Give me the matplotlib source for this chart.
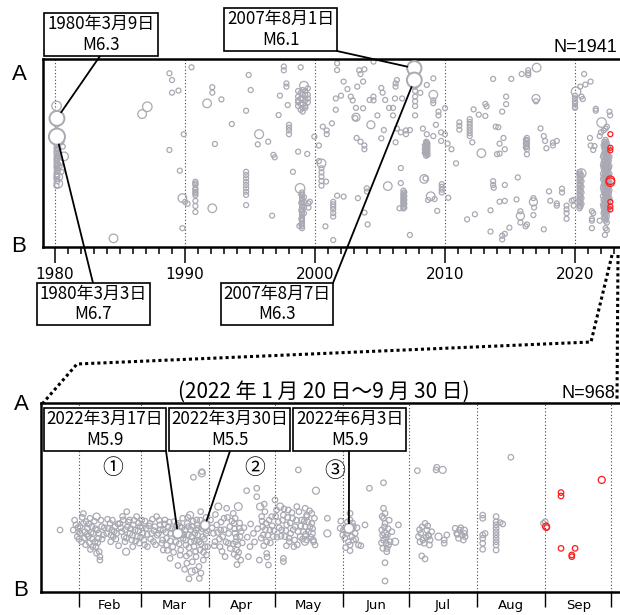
import matplotlib
matplotlib.use('Agg')
import matplotlib.pyplot as plt
from matplotlib.lines import Line2D
from matplotlib.patches import Rectangle

plt.rcParams['font.family'] = ['Noto Sans CJK JP', 'DejaVu Sans']

GRAY = '#a9a9b3'
RED = '#ff1a1a'
W, H = 620, 615

# ---------------- top panel (year, position along A-B in %, 0 = A) ----------------
top_scatter = [
    (1980.6, 46.6), (1980.5, 44), (1980.45, 55), (1980.5, 60), (1980.35, 57),
    (1988.8, 7.6), (1989.0, 11.2), (1989.0, 17.9), (1989.5, 16.8),
    (1988.8, 48.4), (1989.6, 59.4), (1989.9, 40.0), (1990.0, 76.0), (1990.2, 77.0),
    (1989.8, 90.0), (1990.5, 4.4), (1992.1, 15.0), (1992.1, 17.9), (1992.8, 21.5),
    (1993.6, 34.6), (1992.3, 45.2),
    (1994.9, 8.5), (1995.05, 16.5), (1994.7, 27.5), (1995.6, 45.4), (1996.4, 44.0),
    (1996.9, 52.3), (1997.2, 29.8), (1997.3, 19.5), (1997.9, 24.5), (1996.7, 83.3),
    (1998.9, 4.4), (1998.7, 49.3), (1999.4, 50.5), (1998.3, 60.0),
    (1998.8, 88.8), (1999.5, 76.8), (1999.5, 79.0), (1994.7, 77.7),
    (1999.95, 41.3), (2000.3, 46.0), (2000.3, 54.3), (2000.85, 65.2), (2000.6, 36.0),
    (2001.3, 34.2), (2001.6, 21.0), (2002.2, 12.0), (2002.0, 19.5), (2001.6, 27.0),
    (2001.7, 72.7), (2002.2, 73.2), (2000.8, 89.0), (2001.4, 96.3),
    (2003.4, 6.0), (2003.5, 8.0), (2003.8, 5.5), (2003.7, 12.0), (2003.25, 14.7),
    (2002.75, 20.0), (2002.9, 22.0), (2003.15, 26.0), (2003.7, 26.2), (2003.2, 42.0),
    (2003.5, 44.0), (2003.98, 68.8), (2004.0, 70.5), (2003.3, 74.0), (2003.8, 81.7),
    (2004.05, 88.0), (2004.5, 1.4), (2005.2, 17.9), (2005.4, 21.8), (2005.7, 26.0),
    (2006.15, 21.0), (2006.7, 21.0), (2006.6, 58.0), (2006.6, 66.0), (2006.5, 79.4),
    (2007.3, 93.6), (2006.3, 37.0), (2006.6, 39.0), (2007.3, 37.8), (2005.3, 37.8),
    (2006.2, 44.3), (2007.64, 0.5), (2008.1, 18.0), (2008.5, 63.5), (2008.7, 75.0),
    (2004.2, 21.8), (2005.1, 15.4), (2006.3, 11.2), (2003.1, 31.4),
    (2009.1, 10.3), (2008.6, 13.8), (2010.0, 26.2), (2009.3, 35.0), (2008.3, 37.0),
    (2008.6, 40.0), (2009.1, 41.0), (2009.7, 39.0), (2010.0, 40.0), (2009.7, 43.6),
    (2010.2, 45.0), (2010.5, 48.0), (2010.85, 55.5), (2009.2, 74.5), (2010.25, 73.8),
    (2009.4, 80.8), (2012.1, 44.3), (2012.2, 26.8), (2012.6, 29.6), (2013.2, 25.2),
    (2013.1, 30.3), (2013.7, 10.6), (2015.1, 10.6), (2015.9, 8.0), (2014.4, 28.0),
    (2017.0, 22.5), (2014.2, 45.0), (2014.5, 42.0), (2014.6, 48.0), (2014.0, 50.6),
    (2014.2, 50.3), (2016.3, 50.7), (2017.35, 36.9), (2017.6, 41.0), (2017.7, 43.6),
    (2017.8, 47.5), (2018.6, 43.6), (2013.1, 23.9), (2013.9, 36.0), (2014.1, 36.3),
    (2013.7, 65.0), (2013.7, 67.0), (2013.75, 68.5), (2014.6, 67.0), (2015.6, 63.0),
    (2014.2, 75.9), (2014.6, 75.5), (2013.5, 80.5), (2012.3, 82.6), (2011.7, 85.3),
    (2013.5, 91.8), (2014.95, 89.7), (2014.4, 94.0), (2014.4, 96.0), (2014.6, 93.0),
    (2015.8, 81.0), (2015.8, 87.0), (2016.2, 89.0), (2016.3, 88.0), (2015.5, 74.7),
    (2016.8, 74.0), (2016.85, 79.0), (2016.8, 83.0), (2017.6, 90.6), (2018.0, 70.4),
    (2018.1, 75.4), (2019.75, 75.4),
    (2020.4, 14.7), (2020.7, 8.0), (2021.2, 12.0), (2020.8, 13.6), (2020.5, 20.0),
    (2020.6, 21.3), (2022.7, 30.0), (2022.65, 28.0), (2019.9, 75.0), (2019.9, 78.0),
    (2021.3, 81.0), (2021.4, 82.0), (2021.3, 90.0), (2021.4, 48.4), (2021.15, 42.0),
    (2021.2, 46.0), (2021.5, 46.3), (2021.9, 41.0), (2022.0, 39.0), (2022.2, 38.0),
    (2022.35, 37.0), (2022.45, 36.0), (2022.35, 90.0), (2022.3, 93.6), (2022.45, 91.0),
    (2021.9, 86.0),
    (1996.8, 51.0), (1999.6, 75.9), (2005.1, 42.2), (2002.5, 16.0), (2004.8, 30.0),
]

# swarms stacked along A-B: (year, [positions])
top_swarms = [
    (1980.12, [35, 44, 46, 47.5, 49, 50, 51.5, 53, 54, 55.5, 57, 58, 60, 61.5, 64, 67.5]),
    (1980.18, [43, 48, 52.5, 56.5, 59, 62.5, 65]),
    (1980.25, [45, 48, 50.5, 52, 56, 59]),
    (1990.8, [65.3, 66.2, 67, 68.9, 69.6, 70.7, 71.5, 72.5, 75.5, 78.2, 81.4]),
    (1994.7, [60, 61.7, 63.5, 65.3, 67, 68.8, 70.6, 72.3]),
    (1997.6, [4, 6]), (1997.8, [13, 14.7]),
    (1998.0, [35, 36.5, 38, 40]),
    (1998.7, [17, 20, 23, 25, 22]),
    (1998.9, [18, 24, 27, 21]),
    (1999.05, [19, 21, 24, 26, 28, 16.5]),
    (1999.25, [17, 19, 22, 25, 26]),
    (1999.45, [15.6, 19, 21, 23]),
    (1999.0, [71, 72.5, 74, 75.5, 77, 78.5, 80, 81.5, 83, 84.5, 86, 87.5, 89, 90]),
    (1998.95, [72, 76.5, 80.5, 85, 88]),
    (1999.15, [73.5, 76, 79, 82]),
    (2000.5, [58.1, 60.3, 62.6, 64.9, 67.4]),
    (2000.9, [38, 40]),
    (2001.7, [2.3, 5.9]),
    (2001.4, [76, 77.3, 78.6, 80, 82, 83.8]),
    (2003.8, [46, 48]),
    (2004.5, [20, 22]),
    (2006.0, [26, 30]),
    (2006.2, [13, 14.7]),
    (2006.8, [70, 71.5, 72.5, 73.5, 74.5, 75.5, 76.5, 77.5, 78.5, 79.5]),
    (2006.87, [71, 73, 75, 77, 79]),
    (2007.0, [38, 40]),
    (2007.7, [14.7, 17, 20, 22.5, 25, 30]),
    (2008.55, [44, 45.5, 47, 48.5, 50, 51.5]),
    (2008.6, [44.5, 47.5, 50.5]),
    (2008.65, [45, 46.5, 48, 49.5, 51]),
    (2008.45, [46, 48, 50]),
    (2009.1, [22, 23.5]),
    (2009.5, [28, 30]),
    (2009.75, [66.6, 68, 69.5, 71]),
    (2011.1, [33.7, 35.5, 37.6]),
    (2011.9, [32, 33.5, 35, 36.5, 38, 39.5, 41]),
    (2016.4, [6, 7.5, 8.5]),
    (2014.7, [20, 24]),
    (2016.3, [42, 43.5, 45, 46.5, 48]),
    (2016.22, [43, 45, 47]),
    (2018.3, [44.5, 46]),
    (2018.6, [76.8, 78]),
    (2019.0, [69, 71]),
    (2019.35, [78, 80, 82, 85]),
    (2021.3, [85, 86]),
    (2021.6, [26.5, 27.5]),
    (2020.0, [19.5, 21, 22.5, 24, 25.5, 26]),
    (2020.35, [60, 61.5, 63, 64.5, 66, 67.5, 69, 70.5, 72, 73.5, 75, 76.5, 78, 79.4]),
    (2020.42, [61, 64, 67, 70, 73, 76, 78.5]),
    (2020.5, [62, 65, 68, 71, 74, 77]),
    (2022.15, [52, 56.5, 61, 64, 68.5, 73, 77.5]),
    (2022.2, [46, 51, 55, 58, 63, 67, 70, 75, 79, 82]),
    (2022.25, [44, 47.5, 50, 53.5, 57, 59.5, 62, 66, 69.5, 71, 74.5, 78, 81, 84]),
    (2022.3, [45, 48, 54, 57, 62, 64.5, 67.5, 72, 77, 80.5, 84.5]),
    (2022.35, [43, 46, 49.5, 52, 55.5, 58, 60.5, 63, 65.5, 68, 70.5, 73, 75.5, 79, 82.5, 86]),
    (2022.4, [44, 47, 50.5, 53, 56, 59, 61.5, 64, 66.5, 69, 71.5, 74, 76.5, 78.5, 82, 85]),
    (2022.45, [45, 48.5, 51, 54, 57.5, 60, 62.5, 64.5, 67, 69.5, 72, 74.5, 77, 80.5, 83.5, 87]),
    (2022.5, [49, 53, 56, 59.5, 63, 65.5, 68, 70.5, 73.5, 77.5, 81]),
    (2022.55, [47, 51.5, 55, 58.5, 61.5, 64, 66.5, 69, 72.5, 76, 79.5]),
    (2022.6, [54, 58, 62.5, 66, 68.5, 71.5, 75]),
    (2022.65, [52, 57, 61, 65.5, 70, 74]),
]

# M4-class events: (year, position, magnitude)
top_medium = [
    (1980.12, 25.0, 4.5), (1980.25, 62.8, 4.2), (1980.25, 66.3, 4.2), (1980.7, 51.8, 4.2),
    (1984.5, 95.4, 4.2), (1987.1, 25.4, 4.5), (1986.7, 29.3, 4.2), (1989.8, 74.0, 4.2),
    (1991.7, 23.6, 4.2), (1992.1, 79.4, 4.2), (1995.7, 40.0, 4.3), (1998.85, 68.8, 4.5),
    (1999.15, 14.2, 4.2), (2000.5, 55.5, 4.2), (2003.15, 31.0, 4.0), (2004.3, 35.0, 4.0),
    (2005.6, 67.6, 4.2), (2009.1, 19.0, 4.2), (2008.4, 63.8, 4.2), (2008.9, 73.0, 4.2),
    (2012.8, 50.1, 4.2), (2017.05, 4.6, 4.2), (2017.0, 21.0, 4.0), (2015.8, 83.5, 4.0),
    (2016.8, 76.0, 4.0), (2020.08, 17.4, 4.5), (2020.5, 60.8, 4.3), (2022.05, 33.8, 4.5),
]

# labelled main shocks
top_main = [(1980.15, 31.6, 6.3), (1980.15, 41.3, 6.7), (2007.64, 4.9, 6.1), (2007.64, 11.2, 6.3)]

# latest events (red)
top_red = [(2022.72, 40.0, 3.0), (2022.72, 47.2, 3.0), (2022.72, 48.6, 3.0), (2022.72, 64.5, 4.2),
           (2022.72, 65.5, 4.2), (2022.72, 76.0, 3.0), (2022.72, 78.5, 3.0), (2022.72, 80.0, 3.0)]

top_labels = ['1980年3月9日\nM6.3', '1980年3月3日\nM6.7', '2007年8月1日\nM6.1', '2007年8月7日\nM6.3']
top_years = [1980, 1990, 2000, 2010, 2020]

# ---------------- bottom panel (day of 2022 counted from Jan 1 = 0, position %) ----------------
bottom_events = [
    (22.4, 67.2),
    (28.4, 67.2), (29.6, 64.5), (30.2, 70.7), (31.5, 65.4), (31.5, 69.0), (32.2, 73.4),
    (33.0, 63.7), (33.7, 68.1), (34.8, 66.3), (35.2, 70.7), (36.0, 61.0), (36.8, 65.4),
    (37.5, 69.0), (38.3, 73.4), (38.7, 76.0), (39.3, 67.2), (39.8, 71.6), (40.2, 78.7),
    (40.5, 81.3), (40.5, 83.1), (41.3, 65.4), (42.1, 69.8), (34.2, 62.8), (30.8, 68.1),
    (37.2, 76.0), (35.7, 73.9),
    (43.6, 69.0), (45.1, 63.7), (45.9, 67.2), (46.6, 70.7), (47.4, 65.4), (45.4, 73.4),
    (48.1, 69.0), (44.3, 66.3),
    (49.6, 63.7), (50.4, 68.1), (51.5, 70.7), (52.7, 57.5), (53.0, 65.4), (53.9, 61.9),
    (54.2, 69.0), (55.0, 72.5), (55.7, 64.5), (56.5, 67.2), (57.2, 60.1), (57.5, 70.7),
    (58.4, 74.2), (58.7, 65.4), (59.5, 61.9), (60.0, 69.0), (60.5, 72.5), (61.5, 66.3),
    (62.1, 76.0), (63.3, 63.7), (64.0, 69.0), (64.8, 73.4), (65.5, 65.4), (66.3, 60.1),
    (55.4, 76.0), (51.9, 73.4), (51.1, 61.9),
    (67.1, 69.0), (67.8, 64.5), (68.6, 74.2), (69.3, 67.2), (70.1, 61.9), (70.8, 71.6),
    (71.6, 65.4), (72.4, 82.2), (72.7, 69.0), (73.6, 76.0), (74.2, 62.8), (75.1, 73.4),
    (76.9, 65.4), (77.2, 77.8), (78.1, 61.0), (78.4, 71.6), (79.2, 67.2), (79.6, 75.1),
    (80.0, 84.8), (80.2, 63.7), (80.7, 69.8), (81.2, 79.6), (81.8, 73.4), (82.7, 65.4),
    (83.0, 39.3), (83.3, 76.0), (83.7, 69.0), (84.2, 81.3), (84.5, 61.9), (84.8, 72.5),
    (85.2, 66.3), (85.7, 92.8), (86.0, 77.8), (86.3, 57.5), (86.9, 36.3), (87.2, 70.7),
    (87.5, 83.1), (87.8, 63.7), (88.3, 76.0), (88.7, 69.0), (89.0, 80.4), (74.6, 67.2),
    (76.2, 63.7), (77.7, 69.8), (70.8, 75.1), (69.3, 77.8), (82.2, 70.7), (84.2, 67.2),
    (80.7, 65.4), (85.7, 73.4),
    (90.8, 61.9), (92.1, 69.0), (92.8, 73.4), (93.6, 64.5), (95.1, 76.0), (95.4, 67.2),
    (96.3, 70.7), (96.9, 61.0), (97.4, 81.3), (98.1, 55.7), (98.9, 74.2), (99.6, 65.4),
    (101.1, 58.4), (101.4, 63.7), (101.9, 69.0), (102.2, 73.4), (102.7, 77.8), (103.0, 81.3),
    (103.9, 66.3), (104.2, 70.7), (104.5, 83.1), (107.2, 46.4), (111.8, 45.1), (111.8, 49.6),
    (108.0, 81.3), (108.7, 76.0), (110.3, 69.0), (114.0, 60.1), (114.5, 65.4), (114.8, 69.8),
    (115.5, 57.5), (116.0, 63.7), (116.3, 73.4), (117.1, 85.7), (116.3, 79.6), (117.8, 67.2),
    (118.6, 60.1), (119.3, 70.7), (120.1, 51.3), (120.8, 56.6), (113.0, 83.1), (123.9, 82.2),
    (123.9, 83.9),
    (121.6, 62.8), (123.1, 67.2), (123.9, 59.3), (124.6, 70.7), (125.4, 64.5), (126.1, 56.6),
    (126.6, 73.4), (127.2, 69.0), (128.1, 61.0), (128.7, 76.0), (129.2, 65.4), (130.0, 54.8),
    (130.7, 35.4), (131.5, 70.7), (132.2, 61.9), (133.0, 68.1), (134.5, 59.3), (136.0, 65.4),
    (137.5, 72.5),
    (133.8, 55.7), (134.5, 60.1), (136.8, 58.4), (136.8, 63.7), (133.8, 65.4), (135.3, 68.1),
    (134.5, 72.5), (137.6, 73.4), (138.3, 75.1), (143.9, 61.0),
    (149.7, 66.3), (151.2, 67.2), (152.7, 69.0), (154.2, 58.4), (154.2, 61.9), (155.0, 70.7),
    (155.7, 72.5), (154.2, 75.1), (154.2, 78.1), (156.5, 69.0), (158.0, 75.1), (155.7, 65.4),
    (150.9, 69.8), (161.0, 64.5), (159.1, 75.5), (163.0, 45.1), (169.4, 42.2),
    (169.4, 55.7), (170.1, 58.4), (169.4, 61.0), (170.1, 63.7), (168.6, 67.2), (171.2, 69.8),
    (169.4, 72.5), (170.6, 74.2), (171.7, 75.1), (169.1, 76.9), (170.9, 78.7), (172.4, 73.4),
    (173.2, 68.1), (170.1, 84.5), (170.1, 94.2), (176.2, 64.5),
    (184.8, 35.8), (193.6, 34.0), (193.3, 35.4),
    (185.3, 70.7), (186.3, 69.0), (187.3, 72.5), (188.3, 63.7), (189.1, 67.2), (189.8, 69.8),
    (190.6, 72.5), (191.3, 68.1), (187.9, 74.2), (190.3, 75.1), (186.8, 80.9), (188.3, 82.5),
    (197.0, 72.5), (197.0, 74.2), (198.2, 69.8),
    (202.0, 66.3), (202.7, 69.0), (203.9, 67.2), (205.0, 69.8), (205.7, 72.5), (206.5, 70.7),
    (203.5, 71.6),
    (214.5, 59.3), (214.5, 61.0), (214.5, 69.8), (214.5, 71.6), (214.5, 74.2), (214.5, 77.4),
    (215.6, 69.0), (220.6, 60.1), (220.6, 62.8), (220.6, 64.5), (220.6, 66.3), (220.6, 68.1),
    (220.6, 69.8), (220.6, 71.6), (220.6, 73.4), (220.6, 75.1), (220.6, 77.8), (222.4, 63.3),
    (223.6, 64.0), (227.3, 28.7), (242.1, 63.7), (242.9, 62.8),
]

# further events inside the dense swarms
bottom_swarm = [
    (29.0, 62.0), (30.5, 66.0), (31.0, 72.0), (32.5, 60.5), (33.5, 71.5), (34.0, 75.0),
    (35.5, 64.0), (36.5, 68.5), (37.0, 72.0), (38.0, 62.5), (38.5, 66.5), (39.5, 74.0),
    (40.0, 69.0), (41.0, 62.0), (41.5, 72.0), (42.5, 66.0), (33.0, 58.5), (36.2, 77.5),
    (39.0, 79.5), (34.6, 69.5),
    (44.0, 61.5), (45.5, 70.0), (46.2, 62.0), (47.0, 68.0), (47.8, 72.0), (48.7, 64.0),
    (49.0, 75.5), (50.0, 66.0), (50.8, 60.0), (52.0, 67.0), (52.5, 71.5), (53.5, 63.0),
    (54.6, 66.5), (55.3, 70.0), (56.0, 62.0), (56.8, 73.0), (57.8, 67.5), (58.0, 63.5),
    (59.0, 71.0), (59.8, 66.0), (60.8, 75.0), (61.0, 62.5), (62.0, 69.5), (62.8, 65.0),
    (63.6, 72.0), (64.4, 61.5), (65.0, 67.5), (65.8, 75.0), (66.6, 70.0), (67.5, 62.0),
    (68.0, 67.0), (69.0, 72.5), (69.8, 64.0), (70.5, 68.5), (71.2, 78.0), (72.0, 63.0),
    (72.5, 73.0), (73.2, 66.5), (74.0, 79.0), (74.8, 70.0), (75.5, 64.5), (76.5, 74.5),
    (77.0, 80.5), (77.8, 66.0), (78.7, 69.5), (79.5, 72.5), (79.8, 81.0), (80.5, 60.5),
    (81.0, 76.5), (81.7, 67.0), (82.5, 84.0), (82.9, 62.5), (83.5, 73.0), (84.0, 78.5),
    (84.6, 64.5), (85.0, 70.0), (85.5, 86.5), (86.2, 62.0), (86.5, 74.5), (87.0, 66.5),
    (87.6, 79.0), (88.0, 72.0), (88.8, 60.5), (89.2, 67.5), (89.5, 76.0), (76.0, 86.0),
    (79.0, 88.0), (83.8, 88.5), (81.0, 93.0), (86.4, 90.0),
    (91.5, 66.0), (92.5, 75.5), (93.0, 59.0), (94.0, 68.5), (94.8, 72.0), (95.6, 63.0),
    (96.0, 78.5), (97.0, 67.0), (97.8, 73.5), (98.5, 60.5), (99.0, 69.0), (99.8, 77.0),
    (100.5, 62.5), (101.0, 74.5), (101.7, 66.5), (102.0, 61.0), (102.5, 71.0), (103.2, 75.0),
    (103.6, 79.0), (104.0, 63.5), (104.7, 68.0), (105.2, 74.0), (102.8, 85.5), (101.5, 80.0),
    (106.0, 66.0), (107.5, 71.0), (109.0, 64.0), (110.8, 73.5), (112.2, 66.5), (113.8, 71.5),
    (114.2, 62.5), (115.0, 75.5), (115.7, 67.0), (116.8, 70.0), (117.4, 62.0), (118.0, 74.0),
    (118.8, 65.0), (119.6, 67.5), (120.4, 60.0), (121.0, 71.0), (115.2, 53.5), (116.5, 81.5),
    (122.0, 66.0), (122.8, 70.5), (123.5, 62.0), (124.2, 56.0), (125.0, 67.5), (125.8, 60.5),
    (126.5, 71.5), (127.0, 63.5), (127.8, 58.0), (128.4, 67.0), (129.0, 72.5), (129.8, 62.0),
    (130.5, 68.0), (131.0, 57.5), (131.8, 65.0), (132.6, 72.0), (133.4, 62.5), (134.0, 69.5),
    (135.0, 63.0), (135.8, 57.0), (136.5, 71.0), (137.2, 66.5), (138.0, 61.0), (125.3, 75.5),
    (130.2, 75.0),
    (150.0, 62.5), (151.8, 71.5), (153.0, 63.0), (153.5, 73.5), (155.3, 63.5), (156.8, 72.0),
    (157.4, 66.0), (152.2, 76.5), (168.8, 60.0), (169.8, 65.5), (170.5, 71.0), (171.5, 66.5),
    (172.0, 62.0), (169.0, 70.0), (171.0, 77.0), (168.5, 74.0),
    (185.8, 67.0), (187.0, 65.5), (188.8, 71.0), (189.5, 65.0), (190.0, 70.5), (186.0, 73.5),
    (203.0, 69.5), (204.5, 66.0), (206.2, 69.0),
]

bottom_medium = [
    (39.0, 60.1, 4.0), (52.4, 78.7, 4.0), (81.5, 59.3, 4.0), (82.2, 89.2, 4.0), (86.8, 37.2, 4.0),
    (94.3, 54.8, 4.0), (103.4, 54.8, 4.5), (113.3, 54.8, 4.0), (122.4, 54.8, 4.0), (133.7, 73.4, 4.0),
    (138.7, 46.4, 4.0), (136.8, 69.0, 4.0), (143.9, 69.0, 4.0), (170.1, 69.0, 4.0), (174.7, 73.4, 4.0),
    (196.3, 35.4, 4.0), (194.4, 70.7, 4.0), (206.0, 67.5, 4.0),
]

bottom_main = [(75.9, 69.0, 5.9), (88.3, 64.6, 5.5), (153.7, 66.3, 5.9)]

bottom_red = [(243.3, 65.4, 4.0), (243.6, 65.9, 3.0), (250.1, 47.4, 3.0), (250.1, 49.2, 3.0),
              (268.6, 40.7, 4.0), (250.1, 76.9, 3.0), (256.5, 76.9, 3.0), (255.0, 80.4, 3.0),
              (255.0, 81.3, 3.0)]

bottom_labels = ['2022年3月17日\nM5.9', '2022年3月30日\nM5.5', '2022年6月3日\nM5.9']
month_starts = [31, 59, 90, 120, 151, 181, 212, 243, 273]
month_names = ['Feb', 'Mar', 'Apr', 'May', 'Jun', 'Jul', 'Aug', 'Sep']


def top_size(m):
    return ((3 * m - 4) * 0.72) ** 2


def bottom_size(m):
    return ((5.5 + (m - 3) * 1.5) * 0.72) ** 2


def fig_xy(px, py):
    return px / W, 1 - py / H


def draw_box(fig, x0, y0, x1, y1, text):
    fx0, fy1 = fig_xy(x0, y1)
    fig.add_artist(Rectangle((fx0, fy1), (x1 - x0) / W, (y1 - y0) / H, transform=fig.transFigure,
                             facecolor='white', edgecolor='black', lw=1.2, zorder=5))
    cx, cy = fig_xy((x0 + x1) / 2, (y0 + y1) / 2)
    fig.text(cx, cy, text, ha='center', va='center', fontsize=12.2, linespacing=1.2, zorder=6)


def leader(ax, xy, px, py, shrink):
    ax.annotate('', xy=xy, xytext=(px, H - py), textcoords='figure pixels', annotation_clip=False,
                arrowprops=dict(arrowstyle='-', lw=1.3, color='black', shrinkA=0, shrinkB=shrink),
                zorder=6)


fig = plt.figure(figsize=(6.2, 6.15), dpi=100)

# ---- top axes
ax1 = fig.add_axes([43 / W, 1 - 247 / H, 580 / W, 188 / H])
ax1.set_xlim(1980 - 12 / 13, 1980 + 568 / 13)
ax1.set_ylim(100, 0)

xs = [p[0] for p in top_scatter]
ys = [p[1] for p in top_scatter]
for yr, col in top_swarms:
    xs += [yr] * len(col)
    ys += col
ax1.scatter(xs, ys, s=top_size(3.0), facecolors='none', edgecolors=GRAY, linewidths=0.9, zorder=2)
ax1.scatter([p[0] for p in top_medium], [p[1] for p in top_medium],
            s=[top_size(p[2]) for p in top_medium], facecolors='none', edgecolors=GRAY,
            linewidths=0.9, zorder=2)
ax1.scatter([p[0] for p in top_red], [p[1] for p in top_red], s=[top_size(p[2]) for p in top_red],
            facecolors='none', edgecolors=RED, linewidths=0.9, zorder=3)
ax1.scatter([p[0] for p in top_main], [p[1] for p in top_main], s=[top_size(p[2]) for p in top_main],
            facecolors='white', edgecolors=GRAY, linewidths=1.4, zorder=4)

for yr in top_years:
    ax1.axvline(yr, color='#444444', lw=0.8, ls=(0, (1, 2)), zorder=1)
ax1.set_xticks(top_years)
ax1.set_xticks(range(1980, 2024), minor=True)
ax1.set_yticks([])
ax1.tick_params(axis='x', which='major', direction='out', length=11.5, width=1.1, pad=3,
                labelsize=11)
ax1.tick_params(axis='x', which='minor', direction='out', length=5, width=1.1)
for lab in ax1.get_xticklabels():
    lab.set_fontfamily('DejaVu Sans')
for side in ['top', 'left', 'bottom']:
    ax1.spines[side].set_linewidth(1.8)
ax1.spines['right'].set_visible(False)

# ---- bottom axes
ax2 = fig.add_axes([41 / W, 1 - 592 / H, 582 / W, 189 / H])
ax2.set_xlim(31 - 38 / 2.2, 31 + 544 / 2.2)
ax2.set_ylim(100, 0)
small = bottom_events + bottom_swarm
ax2.scatter([p[0] for p in small], [p[1] for p in small], s=bottom_size(3.0),
            facecolors='none', edgecolors=GRAY, linewidths=0.9, zorder=2)
ax2.scatter([p[0] for p in bottom_medium], [p[1] for p in bottom_medium],
            s=[bottom_size(p[2]) for p in bottom_medium], facecolors='none', edgecolors=GRAY,
            linewidths=0.9, zorder=2)
ax2.scatter([p[0] for p in bottom_red], [p[1] for p in bottom_red],
            s=[bottom_size(p[2]) for p in bottom_red], facecolors='none', edgecolors=RED,
            linewidths=0.9, zorder=3)
ax2.scatter([p[0] for p in bottom_main], [p[1] for p in bottom_main],
            s=[bottom_size(p[2]) for p in bottom_main], facecolors='white', edgecolors=GRAY,
            linewidths=1.3, zorder=4)
for t in month_starts:
    ax2.axvline(t, color='#444444', lw=0.8, ls=(0, (1, 2)), zorder=1)
ax2.set_xticks(month_starts)
ax2.set_xticklabels([])
mids = [(month_starts[i] + month_starts[i + 1]) / 2 for i in range(len(month_names))]
ax2.set_xticks(mids, minor=True)
ax2.set_xticklabels(month_names, minor=True, fontfamily='DejaVu Sans', fontsize=9.5)
ax2.tick_params(axis='x', which='major', direction='out', length=11, width=1.0)
ax2.tick_params(axis='x', which='minor', length=0, pad=5)
ax2.set_yticks([])
for side in ['top', 'left', 'bottom']:
    ax2.spines[side].set_linewidth(1.8)
ax2.spines['right'].set_visible(False)

# ---- A / B labels
for px, py, s in [(19, 75, 'A'), (19, 246, 'B'), (21, 405, 'A'), (21, 590, 'B')]:
    fx, fy = fig_xy(px, py)
    fig.text(fx, fy, s, ha='center', va='center', fontsize=16, fontfamily='Liberation Sans')

# ---- counts and titles
fx, fy = fig_xy(617, 47)
fig.text(fx, fy, 'N=1941', ha='right', va='center', fontsize=13, fontfamily='Liberation Sans')
fx, fy = fig_xy(615, 393)
fig.text(fx, fy, 'N=968', ha='right', va='center', fontsize=13, fontfamily='Liberation Sans')
fx, fy = fig_xy(324, 392)
fig.text(fx, fy, '(2022 年 1 月 20 日～9 月 30 日)', ha='center', va='center', fontsize=15)
# title of the upper panel, almost entirely above the top edge of the picture
fx, fy = fig_xy(324, -5)
fig.text(fx, fy, '(1980 年 1 月 1 日～2022 年 9 月 30 日)', ha='center', va='baseline', fontsize=15)

# ---- annotation boxes and leader lines
top_boxes = [(44, 13, 158, 56), (37, 283, 150, 325), (224, 8, 337, 51), (221, 283, 333, 325)]
top_anchor = [(100, 56), (93, 283), (337, 51), (333, 283)]
for i, (box, anc) in enumerate(zip(top_boxes, top_anchor)):
    draw_box(fig, *box, top_labels[i])
    ev = top_main[i]
    leader(ax1, (ev[0], ev[1]), anc[0], anc[1], (3 * ev[2] - 4) * 0.36)

bottom_boxes = [(44, 408, 166, 451), (169, 408, 290, 451), (293, 408, 406, 451)]
bottom_anchor = [(166, 451), (230, 451), (349, 451)]
for i, (box, anc) in enumerate(zip(bottom_boxes, bottom_anchor)):
    draw_box(fig, *box, bottom_labels[i])
    ev = bottom_main[i]
    leader(ax2, (ev[0], ev[1]), anc[0], anc[1], (5.5 + (ev[2] - 3) * 1.5) * 0.36)

for px, py, s in [(113, 468, '①'), (255, 468, '②'), (335, 471, '③')]:
    fx, fy = fig_xy(px, py)
    fig.text(fx, fy, s, ha='center', va='center', fontsize=15)

# ---- dotted zoom connector
for path in [[(612, 255), (591, 342), (77, 364), (43, 403)], [(618, 255), (617, 400)]]:
    fx = [p[0] / W for p in path]
    fy = [1 - p[1] / H for p in path]
    fig.add_artist(Line2D(fx, fy, transform=fig.transFigure, color='black', lw=2.2,
                          ls=(0, (1, 1))))

fig.savefig('out.png', dpi=100)
